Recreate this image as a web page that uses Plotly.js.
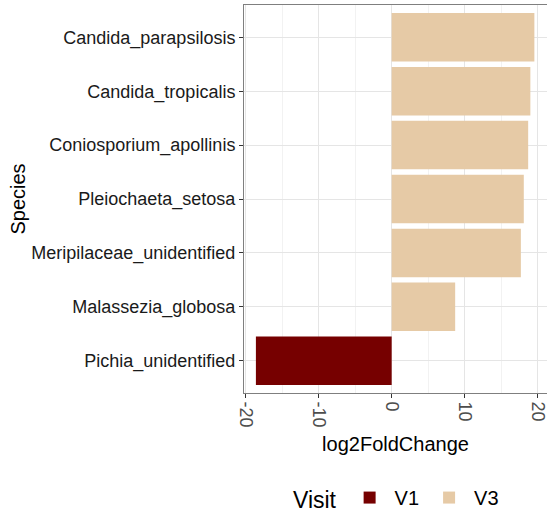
<!DOCTYPE html>
<html>
<head>
<meta charset="utf-8">
<script src="https://cdn.plot.ly/plotly-3.0.1.min.js"></script>
<style>html,body{margin:0;padding:0;background:#fff;}#chart{width:547px;height:514px;}</style>
</head>
<body>
<div id="chart"></div>
<script>
// Category order (bottom to top)
const species = ["Pichia_unidentified","Malassezia_globosa","Meripilaceae_unidentified","Pleiochaeta_setosa","Coniosporium_apollinis","Candida_tropicalis","Candida_parapsilosis"];
const v1Species = ["Pichia_unidentified"];
const v1Values = [-18.6];
const v3Species = ["Malassezia_globosa","Meripilaceae_unidentified","Pleiochaeta_setosa","Coniosporium_apollinis","Candida_tropicalis","Candida_parapsilosis"];
const v3Values = [8.7, 17.7, 18.1, 18.7, 19.0, 19.55];
const xTicks = [-20, -10, 0, 10, 20];

const font = "Liberation Sans, Arial, sans-serif";
const traces = [
  {type:"bar", orientation:"h", name:"V1", x:v1Values, y:v1Species, width:0.9,
   marker:{color:"#760000"}, hoverinfo:"x+y"},
  {type:"bar", orientation:"h", name:"V3", x:v3Values, y:v3Species, width:0.9,
   marker:{color:"#e6caa6"}, hoverinfo:"x+y"}
];
const layout = {
  width:547, height:514,
  margin:{l:244, r:0, t:5, b:121, autoexpand:false},
  paper_bgcolor:"#fff", plot_bgcolor:"#fff",
  barmode:"overlay",
  font:{family:font, color:"#000"},
  xaxis:{
    range:[-20.23, 21.28], tickvals:xTicks, ticktext:xTicks.map(String),
    tickangle:90, ticks:"outside", ticklen:4, tickcolor:"#333",
    tickfont:{size:18, color:"#4d4d4d"}, ticklabeloverflow:"allow",
    showgrid:true, gridcolor:"#e5e5e5", gridwidth:1,
    minor:{dtick:5, tick0:0, showgrid:true, gridcolor:"#f2f2f2", ticklen:0},
    zeroline:false, showline:true, mirror:true, linecolor:"#7f7f7f", linewidth:1,
    title:{text:"log2FoldChange", font:{size:20, color:"#000"}, standoff:10},
    automargin:false, fixedrange:true
  },
  yaxis:{
    type:"category", categoryorder:"array", categoryarray:species,
    range:[-0.6, 6.6], ticks:"outside", ticklen:4, tickcolor:"#333",
    tickfont:{size:18, color:"#1a1a1a"},
    showgrid:true, gridcolor:"#e5e5e5", gridwidth:1,
    zeroline:false, showline:true, linecolor:"#7f7f7f", linewidth:1,
    title:{text:"Species", font:{size:20, color:"#000"}, standoff:0},
    automargin:false, fixedrange:true
  },
  showlegend:true,
  legend:{orientation:"h", x:0.5065, xanchor:"center", yref:"container", y:0.031, yanchor:"middle",
    title:{text:"Visit", font:{size:23, color:"#000"}, side:"left"},
    font:{size:20, color:"#000"}, itemwidth:40, traceorder:"normal"}
};
Plotly.newPlot("chart", traces, layout, {displayModeBar:false, staticPlot:true});
</script>
</body>
</html>
